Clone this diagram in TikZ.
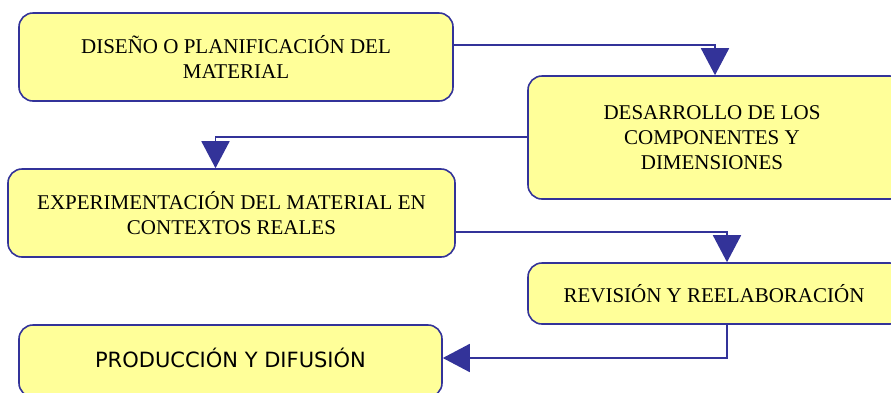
\documentclass[tikz,border=0pt]{standalone}
\usepackage{fontspec}
\setmainfont{Liberation Serif}
\newfontfamily\boxsans{DejaVu Sans}
\usetikzlibrary{arrows.meta}
\definecolor{lineblue}{RGB}{51,51,153}
\definecolor{boxfill}{RGB}{255,255,153}
\begin{document}
\begin{tikzpicture}[x=1pt,y=-1pt,
  stepbox/.style={draw=lineblue, line width=1.6pt, fill=boxfill, rounded corners=14pt,
    rectangle, inner sep=0pt, align=center, font=\fontsize{21}{25}\selectfont},
  arr/.style={draw=lineblue, line width=1.8pt, -{Triangle[length=27pt,width=28pt]}}]
\useasboundingbox (0,0) rectangle (891,392);
\begin{scope}
\clip (0,0) rectangle (891,392);
\node[stepbox, minimum width=434pt, minimum height=88pt] (b1) at (236,57)
  {DISEÑO O PLANIFICACIÓN DEL\\MATERIAL};
\node[stepbox, minimum width=376pt, minimum height=123pt] (b2) at (716,137.5)
  {\hspace*{-8pt}DESARROLLO DE LOS\\\hspace*{-8pt}COMPONENTES Y\\\hspace*{-8pt}DIMENSIONES};
\node[stepbox, minimum width=447pt, minimum height=88pt] (b3) at (231.5,213)
  {EXPERIMENTACIÓN DEL MATERIAL EN\\CONTEXTOS REALES};
\node[stepbox, minimum width=376pt, minimum height=61pt] (b4) at (716,293.5)
  {\hspace*{-4pt}REVISIÓN Y REELABORACIÓN};
\node[stepbox, minimum width=423pt, minimum height=72pt, font=\boxsans\fontsize{21}{25}\selectfont] (b5) at (230.5,361)
  {\raisebox{6pt}{PRODUCCIÓN Y DIFUSIÓN}};
\end{scope}
\draw[arr] ([yshift=12]b1.east) -| ([xshift=-1]b2.north);
\draw[arr] ([yshift=0.5]b2.west) -| ([xshift=-16]b3.north);
\draw[arr] ([yshift=-19]b3.east) -| ([xshift=11]b4.north);
\draw[arr] ([xshift=11]b4.south) |- ([yshift=3]b5.east);
\end{tikzpicture}
\end{document}
